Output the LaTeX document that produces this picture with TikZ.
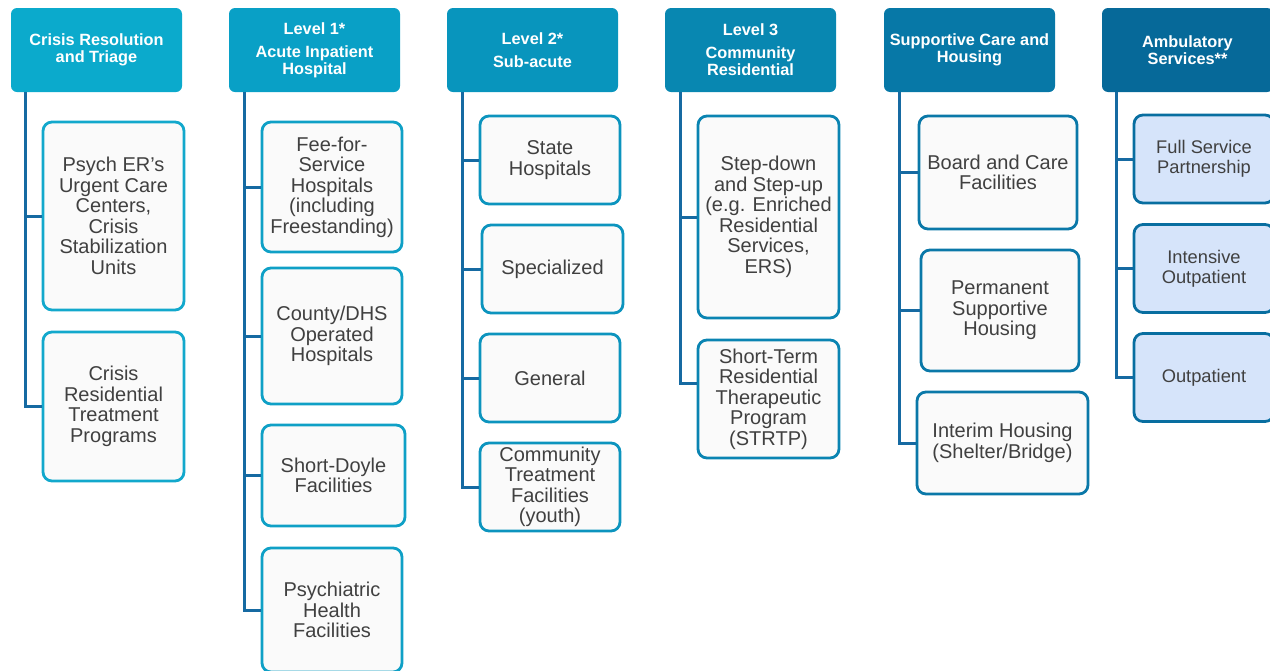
\documentclass[tikz,border=0pt]{standalone}
\usepackage{fontspec}
\setmainfont{Liberation Sans}
\usepackage{xcolor}
\usepackage{tikz}
% header fills, left to right
\definecolor{hdA}{RGB}{11,170,204}
\definecolor{hdB}{RGB}{9,160,198}
\definecolor{hdC}{RGB}{8,149,189}
\definecolor{hdD}{RGB}{8,135,177}
\definecolor{hdE}{RGB}{7,120,167}
\definecolor{hdF}{RGB}{6,105,153}
% box borders
\definecolor{bdA}{RGB}{18,168,204}
\definecolor{bdB}{RGB}{15,160,198}
\definecolor{bdC}{RGB}{12,148,190}
\definecolor{bdD}{RGB}{10,132,178}
\definecolor{bdE}{RGB}{10,120,168}
\definecolor{bdF}{RGB}{8,110,160}
\definecolor{spn}{RGB}{22,106,162}
\definecolor{txt}{RGB}{64,64,64}
\definecolor{pale}{RGB}{250,250,250}
\definecolor{amb}{RGB}{214,228,250}
\tikzset{
  head/.style={rounded corners=6pt,minimum width=171pt,minimum height=84pt,inner sep=1pt,
    text=white,align=center,font=\bfseries\fontsize{16.3}{17}\selectfont},
  item/.style={draw,line width=2.8pt,rounded corners=9pt,fill=pale,inner sep=1pt,
    text=txt,align=center,font=\fontsize{20}{20.5}\selectfont},
  amb item/.style={item,draw=bdF,fill=amb,font=\fontsize{18.3}{20}\selectfont,
    minimum width=140pt,minimum height=88pt},
  spine/.style={line width=3pt,draw=spn},
}

\begin{document}
\begin{tikzpicture}[x=1pt,y=-1pt]
\useasboundingbox (0,0) rectangle (1270,670);
% headers
\node[head,fill=hdA] (h1) at (96.5,50) {Crisis Resolution\\and Triage};
\node[head,fill=hdB] (h2) at (314.5,50) {Level 1*\\[6pt]Acute Inpatient\\Hospital};
\node[head,fill=hdC] (h3) at (532.5,50) {Level 2*\\[6pt]Sub-acute};
\node[head,fill=hdD] (h4) at (750.5,50) {Level 3\\[6pt]Community\\Residential};
\node[head,fill=hdE] (h5) at (969.5,50) {Supportive Care and\\Housing};
\node[head,fill=hdF] (h6) at (1187.5,50) {Ambulatory\\Services**};

% crisis
\node[item,draw=bdA,minimum width=141pt,minimum height=188pt] (c1a) at (113.5,216)
  {Psych ER's\\Urgent Care\\Centers,\\Crisis\\Stabilization\\Units};
\node[item,draw=bdA,minimum width=141pt,minimum height=149pt] (c1b) at (113.5,406.5)
  {Crisis\\Residential\\Treatment\\Programs};
% level 1
\node[item,draw=bdB,minimum width=140pt,minimum height=130pt] (c2a) at (332,187)
  {Fee-for-\\Service\\Hospitals\\(including\\Freestanding)};
\node[item,draw=bdB,minimum width=140pt,minimum height=136pt] (c2b) at (332,336)
  {County/DHS\\Operated\\Hospitals};
\node[item,draw=bdB,minimum width=143pt,minimum height=101pt] (c2c) at (333.5,475.5)
  {Short-Doyle\\Facilities};
\node[item,draw=bdB,minimum width=140pt,minimum height=124pt] (c2d) at (332,610)
  {Psychiatric\\Health\\Facilities};
% level 2
\node[item,draw=bdC,minimum width=140pt,minimum height=88pt] (c3a) at (550,160) {State\\Hospitals};
\node[item,draw=bdC,minimum width=141pt,minimum height=88pt] (c3b) at (552.5,269) {Specialized};
\node[item,draw=bdC,minimum width=140pt,minimum height=88pt] (c3c) at (550,378) {General};
\node[item,draw=bdC,minimum width=140pt,minimum height=88pt] (c3d) at (550,487)
  {Community\\Treatment\\Facilities\\(youth)};
% level 3
\node[item,draw=bdD,minimum width=141pt,minimum height=202pt] (c4a) at (768.5,217)
  {Step-down\\and Step-up\\(e.g. Enriched\\Residential\\Services,\\ERS)};
\node[item,draw=bdD,minimum width=141pt,minimum height=118pt] (c4b) at (768.5,399)
  {Short-Term\\Residential\\Therapeutic\\Program\\(STRTP)};
% supportive care
\node[item,draw=bdE,minimum width=158pt,minimum height=113pt] (c5a) at (998,172.5)
  {Board and Care\\Facilities};
\node[item,draw=bdE,minimum width=158pt,minimum height=121pt] (c5b) at (1000,310.5)
  {Permanent\\Supportive\\Housing};
\node[item,draw=bdE,minimum width=171pt,minimum height=102pt] (c5c) at (1002.5,443)
  {Interim Housing\\(Shelter/Bridge)};
% ambulatory
\node[amb item] (c6a) at (1204,159) {Full Service\\Partnership};
\node[amb item] (c6b) at (1204,268.5) {Intensive\\Outpatient};
\node[amb item] (c6c) at (1204,377.5) {Outpatient};

% spines
\draw[spine] ([xshift=15pt]h1.south west) |- (c1a.west);
\draw[spine] ([xshift=15pt]h1.south west) |- (c1b.west);
\foreach \c in {c2a,c2b,c2c,c2d}
  \draw[spine] ([xshift=16pt]h2.south west) |- (\c.west);
\foreach \c in {c3a,c3b,c3c,c3d}
  \draw[spine] ([xshift=16pt]h3.south west) |- (\c.west);
\draw[spine] ([xshift=16pt]h4.south west) |- (c4a.west);
\draw[spine] ([xshift=16pt]h4.south west) |- ([yshift=16pt]c4b.west);
\foreach \c in {c5a,c5b,c5c}
  \draw[spine] ([xshift=16pt]h5.south west) |- (\c.west);
\foreach \c in {c6a,c6b,c6c}
  \draw[spine] ([xshift=15pt]h6.south west) |- (\c.west);
\end{tikzpicture}
\end{document}
